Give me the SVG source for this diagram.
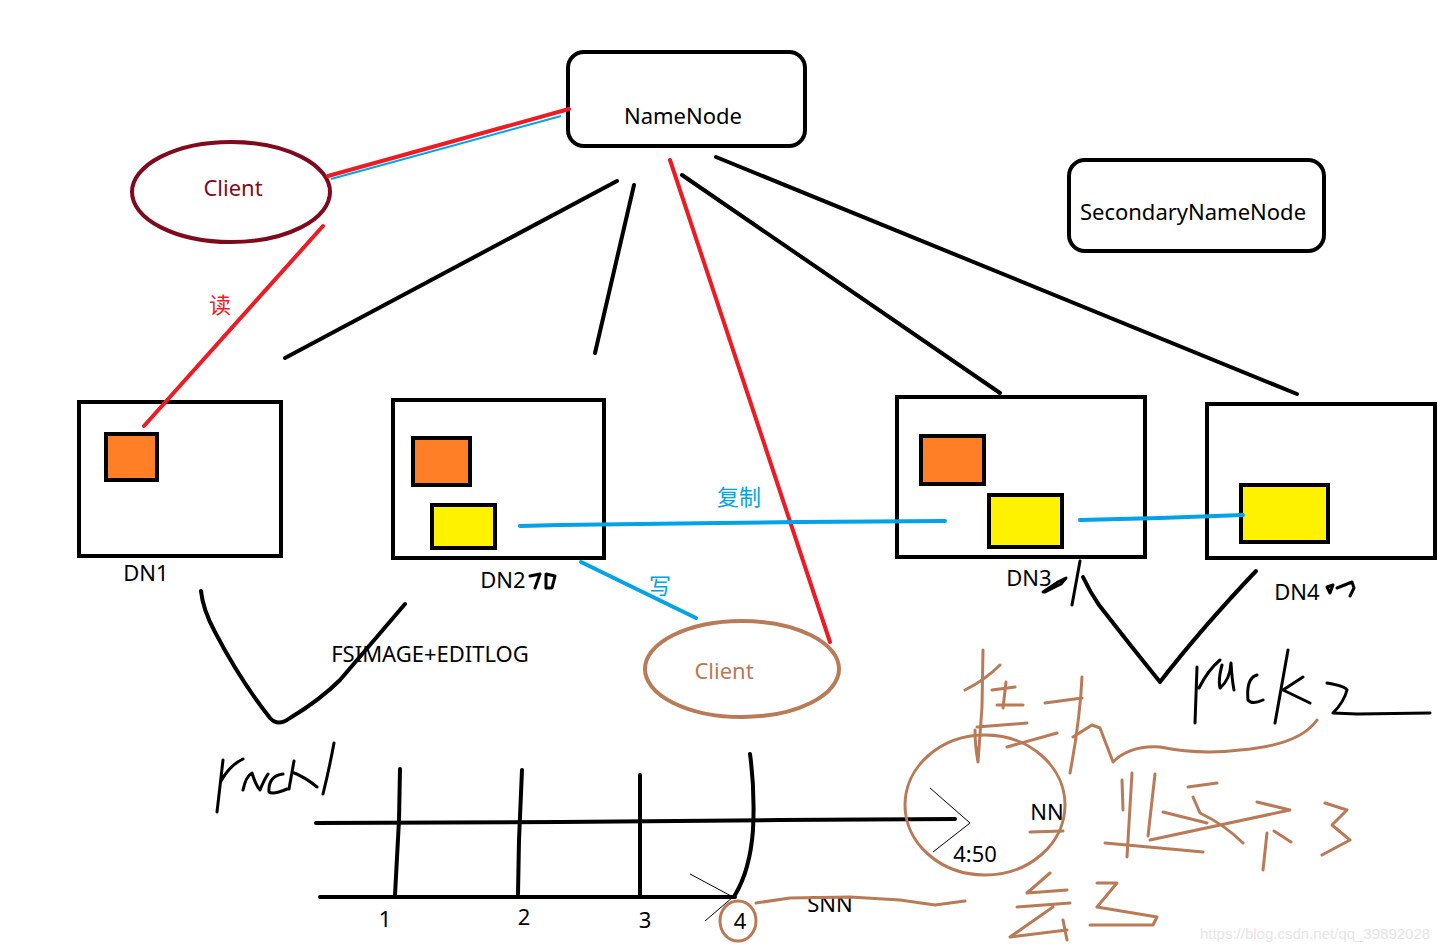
<svg xmlns="http://www.w3.org/2000/svg" width="1446" height="951" viewBox="0 0 1446 951">
<style>
text{font-family:"Noto Sans","Noto Sans CJK SC",sans-serif;font-size:22px;fill:#000}
.blk{fill:none;stroke:#000;stroke-width:4;stroke-linecap:round;stroke-linejoin:round}
.hand{fill:none;stroke:#000;stroke-width:3;stroke-linecap:round;stroke-linejoin:round}
.thin{fill:none;stroke:#000;stroke-width:1}
.red{fill:none;stroke:#ed1c24;stroke-width:4;stroke-linecap:round}
.blue{fill:none;stroke:#00a2e8;stroke-width:4;stroke-linecap:round}
.brown{fill:none;stroke:#b97a57;stroke-width:3;stroke-linecap:round;stroke-linejoin:round}
.box{fill:#fff;stroke:#000;stroke-width:4}
.org{fill:#ff7f27;stroke:#000;stroke-width:4}
.yel{fill:#fff200;stroke:#000;stroke-width:4}
</style>
<rect width="1446" height="951" fill="#fff"/>

<g id="namenode">
  <rect x="568" y="52" width="237" height="94" rx="16" class="box"/>
  <text x="683" y="124" text-anchor="middle">NameNode</text>
</g>
<g id="secondarynamenode">
  <rect x="1069" y="160" width="255" height="91" rx="16" class="box"/>
  <text x="1193" y="220" text-anchor="middle" font-size="22.5">SecondaryNameNode</text>
</g>
<g id="client1">
  <ellipse cx="231" cy="192" rx="99" ry="50" fill="none" stroke="#7f0a1e" stroke-width="4"/>
  <text x="233" y="196" text-anchor="middle" style="fill:#7f0a1e">Client</text>
</g>
<g id="client2">
  <ellipse cx="742" cy="669" rx="97" ry="48" fill="none" stroke="#b97a57" stroke-width="4"/>
  <text x="724" y="679" text-anchor="middle" style="fill:#b97a57">Client</text>
</g>

<g id="dn1">
  <rect x="79" y="402" width="202" height="154" class="box"/>
  <rect x="106" y="434" width="51" height="46" class="org"/>
  <text x="146" y="581" text-anchor="middle">DN1</text>
</g>
<g id="dn2">
  <rect x="393" y="400" width="211" height="158" class="box"/>
  <rect x="413" y="438" width="57" height="47" class="org"/>
  <rect x="432" y="505" width="63" height="43" class="yel"/>
  <text x="503" y="588" text-anchor="middle">DN2</text>
  <path class="hand" d="M530 576 L540 574 L535 588 M546 574 L555 576 L552 588 L546 588 Z"/>
</g>
<g id="dn3">
  <rect x="897" y="397" width="248" height="160" class="box"/>
  <rect x="921" y="436" width="63" height="48" class="org"/>
  <rect x="989" y="495" width="73" height="52" class="yel"/>
  <text x="1029" y="586" text-anchor="middle">DN3</text>
  <path class="hand" d="M1043 592 L1058 582 L1066 578 L1061 584 L1045 592 M1080 561 L1072 605"/>
</g>
<g id="dn4">
  <rect x="1207" y="404" width="228" height="154" class="box"/>
  <rect x="1241" y="485" width="87" height="57" class="yel"/>
  <text x="1297" y="600" text-anchor="middle">DN4</text>
  <path class="hand" d="M1327 587 L1333 585 L1330 593 Z M1337 588 L1352 582 L1354 588 L1350 596"/>
</g>

<g id="connectors">
  <line class="blk" x1="617" y1="181" x2="285" y2="358"/>
  <line class="blk" x1="634" y1="185" x2="595" y2="353"/>
  <line class="blk" x1="682" y1="175" x2="1000" y2="393"/>
  <line class="blk" x1="716" y1="157" x2="1297" y2="394"/>
  <line x1="331" y1="179" x2="561" y2="116" stroke="#00a2e8" stroke-width="2"/>
  <line class="red" x1="328" y1="176" x2="569" y2="109"/>
  <line class="red" x1="323" y1="226" x2="144" y2="426"/>
  <line class="red" stroke-width="3" x1="670" y1="160" x2="830" y2="642"/>
  <path class="blue" d="M520 526 L560 525 L640 524 L720 523 L800 522 L945 521"/>
  <path class="blue" d="M1080 520 L1120 519 L1160 518 L1243 515"/>
  <line class="blue" x1="581" y1="562" x2="696" y2="618"/>
</g>

<g id="labels">
  <text x="220" y="313" text-anchor="middle" font-size="20" style="fill:#ed1c24">读</text>
  <text x="739" y="505" text-anchor="middle" font-size="20" style="fill:#00a2e8">复制</text>
  <text x="660" y="594" text-anchor="middle" font-size="20" style="fill:#00a2e8">写</text>
  <text x="430" y="662" text-anchor="middle">FSIMAGE+EDITLOG</text>
  <text x="830" y="912" text-anchor="middle">SNN</text>
  <text x="1047" y="820" text-anchor="middle">NN</text>
  <text x="975" y="862" text-anchor="middle">4:50</text>
  <text x="385" y="927" text-anchor="middle">1</text>
  <text x="524" y="925" text-anchor="middle">2</text>
  <text x="645" y="928" text-anchor="middle">3</text>
  <text x="740" y="929" text-anchor="middle">4</text>
</g>

<g id="rack1">
  <path class="blk" stroke-width="3" d="M201 591 Q203 610 215 632 Q240 680 270 718 Q278 727 290 718 Q320 700 340 680 Q370 645 405 604"/>
  <path class="hand" d="M223 760 L217 812 M221 781 Q230 765 243 759 M243 790 Q246 776 252 773 Q256 786 260 790 Q264 780 268 774 M283 774 Q268 776 269 792 Q273 795 287 789 M294 761 L289 789 M292 772 Q305 777 317 787 M334 743 Q329 770 323 794"/>
</g>

<g id="timeline">
  <path class="blk" d="M316 823 L560 822 L780 820 L955 819"/>
  <path class="blk" d="M320 897 L735 897"/>
  <path class="blk" stroke-width="3" d="M400 769 L399 820 L395 895"/>
  <path class="blk" stroke-width="3" d="M522 770 L519 840 L518 894"/>
  <path class="blk" stroke-width="3" d="M640 775 L640 895"/>
  <path class="blk" stroke-width="3" d="M750 754 Q755 790 753 830 Q750 870 735 895"/>
  <path class="thin" d="M690 874 L733 897 L705 921"/>
  <ellipse cx="738" cy="921" rx="18" ry="20" class="brown"/>
  <path class="brown" d="M756 903 L790 898 L850 897 L900 900 L935 905 L965 901"/>
</g>

<g id="clock">
  <ellipse cx="985" cy="805" rx="80" ry="70" class="brown"/>
  <path class="thin" d="M930 788 L970 823 L933 852"/>
  <path class="brown" d="M1030 832 L1063 831"/>
</g>

<g id="rack2">
  <path class="blk" stroke-width="3" d="M1083 577 Q1090 592 1099 605 Q1130 645 1160 682 Q1200 630 1256 571"/>
  <path class="hand" d="M1197 667 L1195 723 M1199 688 Q1208 670 1220 660 M1222 665 Q1218 680 1220 688 Q1230 680 1231 663 Q1232 680 1234 690 M1257 675 Q1246 678 1248 700 Q1252 705 1263 700 M1288 650 L1275 723 M1303 677 L1283 690 L1310 703 M1327 683 Q1345 686 1347 690 Q1344 702 1333 713 L1357 714 L1430 713"/>
</g>

<g id="notes">
  <path class="brown" d="M983 650 L982 707 L978 762 Q975 745 975 730 M965 690 Q985 680 1000 665 M992 690 L1015 687 M1006 682 L1003 708 M997 705 L1023 705 M977 727 L1027 723 M1007 747 L1057 733"/>
  <path class="brown" d="M1082 677 Q1080 720 1070 773 M1045 703 L1082 698 M1073 737 L1092 725 L1100 728 L1113 762 Q1130 745 1160 747 Q1200 755 1240 750 Q1300 745 1317 720"/>
  <path class="brown" d="M1122 780 L1123 810 M1132 773 L1127 857 M1155 774 L1148 836 M1105 843 L1203 852 M1163 812 L1207 823 M1188 787 L1217 783 M1193 797 L1200 813 Q1225 825 1243 843 M1150 840 L1290 810 L1257 802 M1267 833 L1263 870 M1274 831 L1291 842 M1325 803 L1347 810 L1332 825 L1350 840 L1322 855"/>
  <path class="brown" d="M1050 873 L1027 893 L1067 890 M1017 907 L1070 903 M1053 907 L1010 937 L1067 930 M1063 920 L1067 940 M1097 883 L1117 883 L1097 907 L1157 917 L1153 925 L1090 925"/>
</g>

<text x="1315" y="939" text-anchor="middle" style="font-family:'Liberation Sans',sans-serif;font-size:15px;fill:#e6e6e6">https://blog.csdn.net/qq_39892028</text>
</svg>
